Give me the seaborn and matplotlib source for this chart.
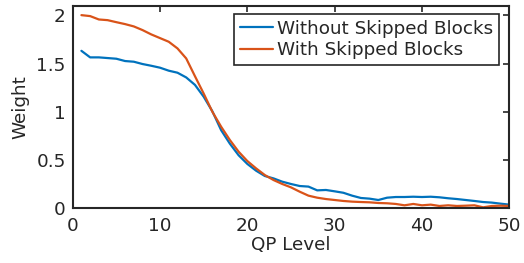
import numpy as np
import pandas as pd
import seaborn as sns
import matplotlib
matplotlib.use("Agg")
import matplotlib.pyplot as plt

qp = list(range(1, 51))
without_skipped = [1.633, 1.565, 1.565, 1.558, 1.551, 1.527, 1.52, 1.496, 1.478, 1.458,
                   1.427, 1.406, 1.357, 1.28, 1.157, 1.005, 0.81, 0.67, 0.55, 0.46,
                   0.39, 0.335, 0.31, 0.276, 0.252, 0.231, 0.225, 0.186, 0.19, 0.176,
                   0.161, 0.131, 0.107, 0.10, 0.086, 0.11, 0.117, 0.117, 0.12, 0.117,
                   0.12, 0.114, 0.104, 0.096, 0.086, 0.076, 0.065, 0.059, 0.048, 0.038]
with_skipped = [2.003, 1.993, 1.958, 1.951, 1.93, 1.91, 1.886, 1.848, 1.803, 1.765,
                1.727, 1.658, 1.554, 1.37, 1.19, 1.0, 0.846, 0.708, 0.587, 0.49,
                0.414, 0.345, 0.293, 0.252, 0.217, 0.172, 0.131, 0.11, 0.096, 0.086,
                0.076, 0.069, 0.065, 0.062, 0.055, 0.052, 0.045, 0.031, 0.045, 0.031,
                0.038, 0.024, 0.031, 0.024, 0.027, 0.031, 0.01, 0.024, 0.027, 0.024]
series_names = ["Without Skipped Blocks", "With Skipped Blocks"]
colors = ["#0072BD", "#D95319"]
x_ticks = [0, 10, 20, 30, 40, 50]
y_ticks = [0, 0.5, 1, 1.5, 2]
y_tick_labels = ["0", "0.5", "1", "1.5", "2"]

df = pd.concat([
    pd.DataFrame({"QP": qp, "Weight": without_skipped, "Series": series_names[0]}),
    pd.DataFrame({"QP": qp, "Weight": with_skipped, "Series": series_names[1]}),
])

sns.set_style("white")
plt.rcParams["font.family"] = ["DejaVu Sans"]
FS = 13.2

fig = plt.figure(figsize=(5.24, 2.63), dpi=100)
ax = fig.add_axes([0.1387, 0.208, 0.972 - 0.1387, 0.978 - 0.208])
sns.lineplot(data=df, x="QP", y="Weight", hue="Series", hue_order=series_names,
             palette=colors, linewidth=1.6, ax=ax)

ax.set_xlim(0, 50)
ax.set_ylim(0, 2.1)
ax.set_xticks(x_ticks)
ax.set_yticks(y_ticks)
ax.set_yticklabels(y_tick_labels)
ax.set_xlabel("QP Level", fontsize=FS, color="#262626", labelpad=1)
ax.set_ylabel("Weight", fontsize=FS, color="#262626", labelpad=5)
ax.tick_params(direction="in", length=4, width=1.2, top=True, right=True,
               labelsize=FS, colors="#262626")
ax.tick_params(axis="x", pad=6)
ax.tick_params(axis="y", pad=5)
for s in ax.spines.values():
    s.set_visible(True)
    s.set_color("#262626")
    s.set_linewidth(1.5)

leg = ax.legend(loc="upper right", bbox_to_anchor=(0.976, 0.959), fontsize=FS,
                frameon=True, fancybox=False, handlelength=1.8, handletextpad=0.25,
                borderpad=0.3, labelspacing=0.2, borderaxespad=0.0)
leg.get_frame().set_edgecolor("#262626")
leg.get_frame().set_linewidth(1.2)
leg.get_frame().set_alpha(1)

fig.savefig("out.png", dpi=100)
